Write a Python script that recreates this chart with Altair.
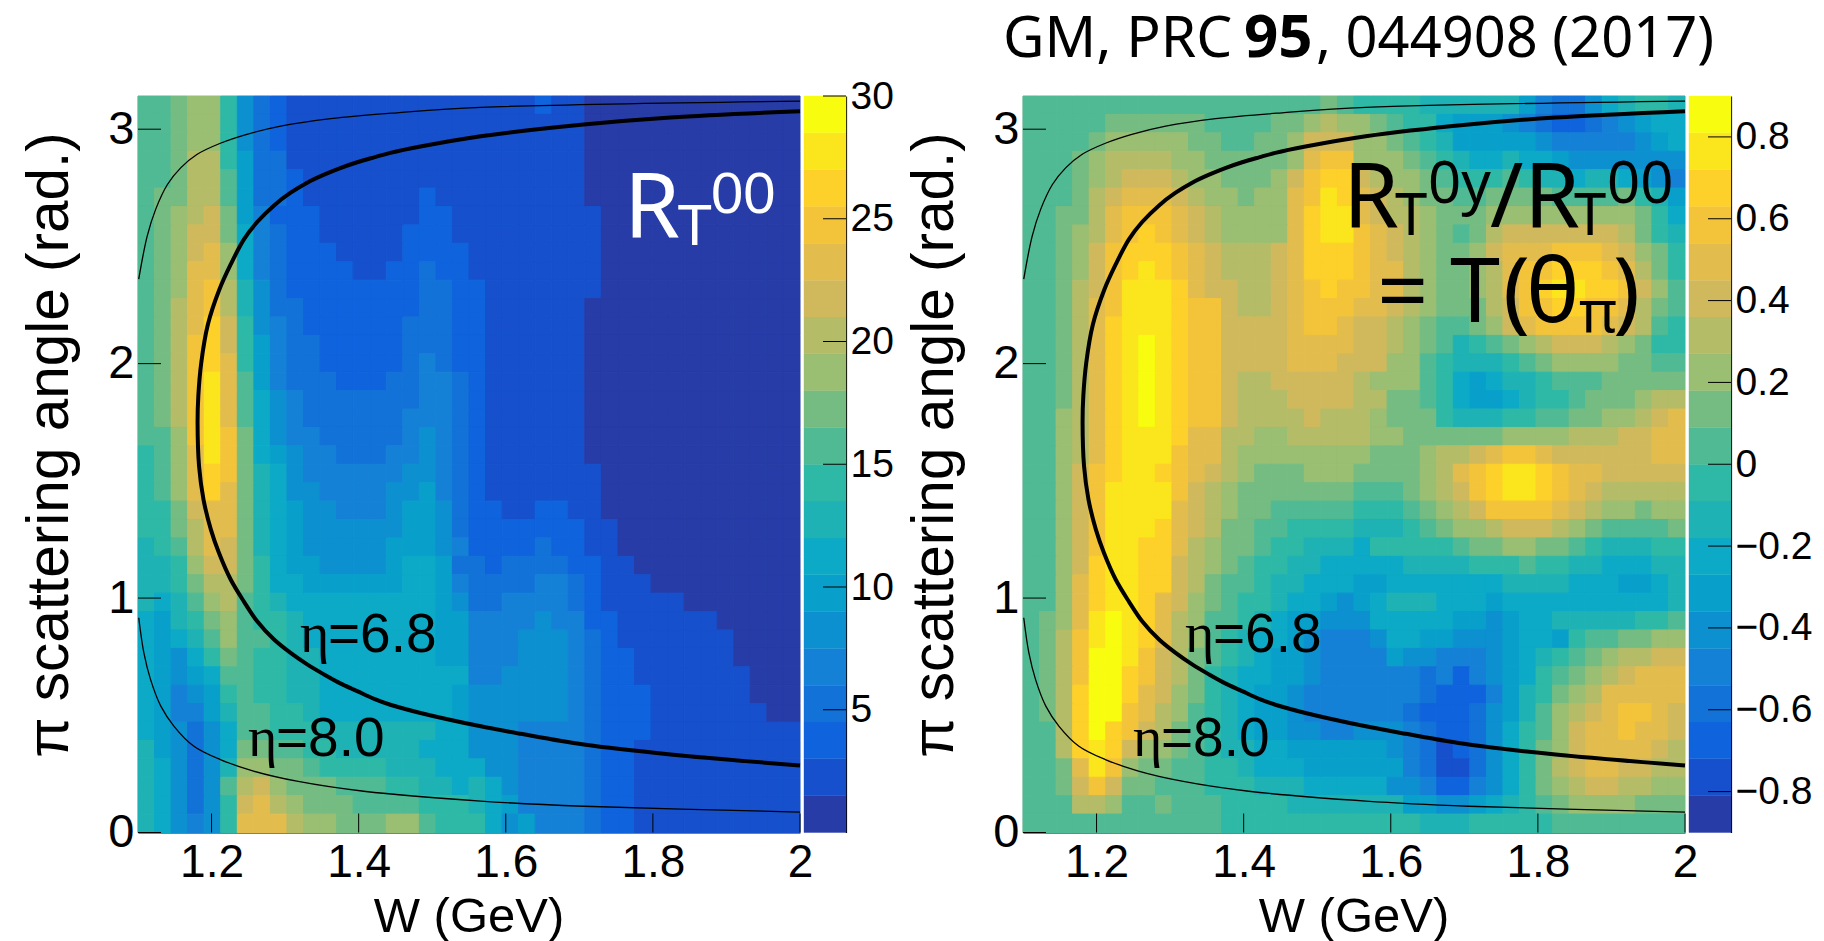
import altair as alt
import pandas as pd

PALETTE = ["#273CA6","#1650CC","#0F63DD","#1272D8","#1581D6","#0D90D0","#08A0CA","#0CAAC6","#1FB2B4","#2EB9A6",
           "#50BA94","#75BC82","#9ABE72","#B4BC68","#D0B95C","#E2BD4E","#F3C43A","#FDD02A","#FBE51C","#F8FC0E"]

# colour level (1-20) of each cell, top row first, W increasing
LEFT_LEVELS = [
[11,11,12,13,13,10,6,4,3,2,2,2,2,2,2,2,2,2,2,2,2,2,2,2,3,2,2,1,1,1,1,1,1,1,1,1,1,1,1,1],
[11,11,12,13,13,10,6,4,3,2,2,2,2,2,2,2,2,2,2,2,2,2,2,2,2,2,2,1,1,1,1,1,1,1,1,1,1,1,1,1],
[11,11,12,13,13,10,6,4,3,2,2,2,2,2,2,2,2,2,2,2,2,2,2,2,2,2,2,1,1,1,1,1,1,1,1,1,1,1,1,1],
[11,11,12,14,14,10,7,4,4,2,2,2,2,2,2,2,2,2,2,2,2,2,2,2,2,2,2,1,1,1,1,1,1,1,1,1,1,1,1,1],
[11,11,12,14,14,11,7,4,4,3,2,2,2,2,2,2,2,2,2,2,2,2,2,2,2,2,2,1,1,1,1,1,1,1,1,1,1,1,1,1],
[11,12,12,14,14,11,7,4,4,3,2,2,2,2,2,2,2,3,2,2,2,2,2,2,2,2,2,1,1,1,1,1,1,1,1,1,1,1,1,1],
[11,12,13,14,15,12,7,5,3,3,3,2,2,2,2,2,2,3,3,2,2,2,2,2,2,2,2,2,1,1,1,1,1,1,1,1,1,1,1,1],
[11,12,13,15,15,12,8,5,4,3,3,2,2,2,2,2,3,3,3,2,2,2,2,2,2,2,2,2,1,1,1,1,1,1,1,1,1,1,1,1],
[11,12,13,15,16,13,8,5,4,3,3,3,2,2,2,2,3,3,3,3,2,2,2,2,2,2,2,2,1,1,1,1,1,1,1,1,1,1,1,1],
[11,12,13,16,16,13,8,5,4,3,3,3,3,2,2,3,3,4,3,3,2,2,2,2,2,2,2,2,1,1,1,1,1,1,1,1,1,1,1,1],
[11,12,13,16,17,14,9,6,4,3,3,3,3,3,3,3,3,4,4,3,3,2,2,2,2,2,2,2,1,1,1,1,1,1,1,1,1,1,1,1],
[11,12,14,16,17,14,9,6,4,4,3,3,3,3,3,3,3,4,4,3,3,2,2,2,2,2,2,1,1,1,1,1,1,1,1,1,1,1,1,1],
[11,12,14,16,18,15,10,6,5,4,3,3,3,3,3,3,4,4,4,3,3,2,2,2,2,2,2,1,1,1,1,1,1,1,1,1,1,1,1,1],
[11,12,14,17,18,15,10,7,5,4,4,3,3,3,3,3,4,4,4,3,3,2,2,2,2,2,2,1,1,1,1,1,1,1,1,1,1,1,1,1],
[11,12,14,17,18,16,10,7,5,4,4,3,3,3,3,3,4,5,4,3,3,2,2,2,2,2,2,1,1,1,1,1,1,1,1,1,1,1,1,1],
[11,12,14,17,19,16,11,7,5,4,4,4,3,3,3,4,4,5,5,4,3,2,2,2,2,2,2,1,1,1,1,1,1,1,1,1,1,1,1,1],
[11,12,14,17,19,16,11,8,6,5,4,4,4,4,4,4,4,5,5,4,3,2,2,2,2,2,2,1,1,1,1,1,1,1,1,1,1,1,1,1],
[11,12,14,17,19,16,11,8,6,5,4,4,4,4,4,4,5,5,5,4,3,2,2,2,2,2,2,1,1,1,1,1,1,1,1,1,1,1,1,1],
[11,11,13,17,19,17,12,8,6,5,5,4,4,4,4,4,5,6,5,4,3,2,2,2,2,2,2,1,1,1,1,1,1,1,1,1,1,1,1,1],
[10,11,13,16,19,17,12,8,7,6,5,5,4,4,4,5,5,6,5,4,3,2,2,2,2,2,2,1,1,1,1,1,1,1,1,1,1,1,1,1],
[10,11,13,16,18,17,12,9,8,6,5,5,5,5,5,5,6,6,5,4,3,2,2,2,2,2,2,2,1,1,1,1,1,1,1,1,1,1,1,1],
[10,11,13,16,18,16,12,9,8,6,6,5,5,5,5,6,6,7,5,4,3,2,2,2,2,2,2,2,1,1,1,1,1,1,1,1,1,1,1,1],
[10,10,12,15,16,16,12,9,8,7,6,6,5,5,5,6,7,7,6,4,3,3,2,2,3,3,2,2,1,1,1,1,1,1,1,1,1,1,1,1],
[10,10,12,14,16,16,12,9,8,7,6,6,6,6,6,6,7,7,6,4,3,3,3,3,3,3,3,2,2,1,1,1,1,1,1,1,1,1,1,1],
[9,10,11,14,16,15,12,9,8,7,6,6,6,6,6,7,7,7,6,5,3,3,3,3,4,3,3,2,2,1,1,1,1,1,1,1,1,1,1,1],
[9,9,10,13,15,15,12,10,8,7,7,6,6,6,6,7,8,8,7,4,4,3,4,4,4,4,3,3,2,2,1,1,1,1,1,1,1,1,1,1],
[9,9,10,12,14,14,12,10,8,8,7,7,7,7,7,7,8,8,7,5,4,4,4,4,5,5,4,3,2,2,2,1,1,1,1,1,1,1,1,1],
[9,8,9,11,13,14,11,10,9,8,8,8,8,8,8,8,8,8,7,6,4,4,5,5,5,5,4,3,2,2,2,2,2,1,1,1,1,1,1,1],
[8,7,9,10,12,13,11,10,10,9,8,8,8,8,8,8,8,8,7,7,5,5,5,5,6,5,5,3,3,2,2,2,2,2,2,1,1,1,1,1],
[8,7,8,9,11,13,11,11,10,9,8,8,8,8,8,8,8,8,7,7,5,5,5,6,6,6,5,4,3,2,2,2,2,2,2,2,1,1,1,1],
[8,7,6,8,10,12,11,10,10,9,9,8,8,8,8,8,8,8,7,7,5,5,5,6,6,6,5,4,3,3,2,2,2,2,2,2,1,1,1,1],
[8,7,6,7,8,11,11,10,10,9,9,8,8,8,8,8,8,8,8,8,5,5,6,6,6,6,5,4,3,3,2,2,2,2,2,2,2,1,1,1],
[8,7,5,6,7,10,11,10,10,9,9,8,8,8,8,8,8,8,8,7,6,6,6,6,6,6,5,4,3,3,3,2,2,2,2,2,2,1,1,1],
[8,7,5,5,7,9,11,11,10,10,9,8,8,8,8,8,8,8,8,7,6,6,6,6,6,6,5,4,3,3,3,2,2,2,2,2,2,2,1,1],
[8,7,6,4,6,8,11,11,10,10,10,9,9,9,9,9,9,9,8,8,6,6,6,5,5,5,5,4,3,3,3,2,2,2,2,2,2,2,2,2],
[9,7,6,4,6,8,12,12,11,11,10,10,9,9,9,9,9,8,8,8,6,6,6,5,5,5,5,4,3,3,2,2,2,2,2,2,2,2,2,2],
[9,8,6,4,6,9,13,13,12,12,11,10,10,10,10,9,9,9,8,8,8,6,6,5,5,5,5,4,3,3,2,2,2,2,2,2,2,2,2,2],
[9,8,6,4,6,11,14,15,13,12,12,12,11,11,11,10,10,9,9,8,9,8,6,5,5,5,5,4,3,3,2,2,2,2,2,2,2,2,2,2],
[9,8,6,4,6,10,15,16,14,13,12,12,12,11,11,11,11,10,10,10,9,8,7,5,5,5,5,4,3,3,2,2,2,2,2,2,2,2,2,2],
[9,8,6,5,6,10,16,16,16,14,13,13,12,12,12,13,13,11,10,10,10,8,6,7,5,5,5,4,3,3,2,2,2,2,2,2,2,2,2,2],
]

RIGHT_LEVELS = [
[11,11,11,11,11,11,11,11,11,11,11,11,11,11,11,11,11,11,12,11,10,10,10,10,9,9,9,9,9,9,7,5,4,4,6,8,9,10,10,9],
[11,11,11,11,11,12,12,12,12,12,12,11,11,11,11,12,12,13,14,13,13,12,11,10,10,8,7,7,7,6,5,4,3,3,4,5,6,7,8,8],
[11,11,11,11,12,13,13,13,13,13,12,12,11,11,12,12,13,15,15,15,13,13,12,11,10,9,7,7,7,7,7,6,5,5,5,5,5,6,7,8],
[11,11,11,12,13,14,14,14,14,13,13,12,12,12,12,12,13,16,17,17,13,13,13,12,11,10,9,8,8,9,8,8,7,6,6,6,6,6,6,6],
[11,11,11,12,13,14,15,15,15,14,13,13,12,12,12,13,15,17,18,18,15,14,13,13,12,11,10,10,10,11,10,9,9,8,9,9,8,7,6,5],
[11,11,11,12,14,15,16,16,16,15,14,13,13,12,13,13,16,17,19,18,16,15,14,13,12,12,11,11,12,12,12,12,11,11,11,11,12,10,9,7],
[11,11,12,12,14,16,17,17,17,16,15,14,13,13,13,13,16,18,19,19,16,15,14,14,13,12,12,12,13,13,13,13,13,13,13,13,13,12,10,8],
[11,11,12,13,14,16,17,18,17,16,15,14,13,13,13,13,16,18,19,19,17,16,15,14,13,12,11,12,14,15,15,15,15,15,15,15,14,12,10,9],
[11,11,12,13,15,17,18,18,18,17,16,15,14,14,14,15,16,18,18,18,17,16,15,14,13,12,12,13,15,16,16,16,17,17,17,16,15,13,12,10],
[11,11,12,13,15,17,18,19,18,17,16,15,14,14,14,15,16,18,18,18,17,16,16,14,13,12,12,13,14,16,17,17,18,18,18,17,16,14,12,10],
[11,11,12,14,15,17,19,19,19,18,16,15,15,14,14,15,16,17,18,17,17,16,16,14,13,12,12,13,14,16,17,18,19,19,18,18,17,15,13,11],
[11,11,12,14,16,17,19,19,19,18,17,17,15,14,14,15,16,17,17,17,16,16,15,14,13,12,12,12,14,15,17,17,18,18,17,17,16,14,12,11],
[11,11,12,14,16,18,19,19,19,18,17,17,15,15,15,15,16,17,17,16,15,15,14,13,12,11,11,12,13,15,16,17,17,17,17,16,15,14,11,10],
[11,11,12,14,16,18,19,20,19,18,17,17,15,15,15,15,16,16,16,16,15,15,14,13,12,11,9,10,11,12,13,14,15,15,15,14,13,12,10,10],
[11,11,12,14,16,18,19,20,19,18,17,17,15,15,15,15,16,16,16,15,15,15,13,13,11,10,9,9,9,10,11,12,13,13,13,13,12,12,11,11],
[11,11,12,14,16,18,19,20,19,18,17,17,15,14,14,15,15,15,15,15,14,13,13,13,11,10,8,7,8,9,9,10,11,11,11,12,12,12,12,12],
[11,11,12,14,16,18,19,20,19,18,17,17,15,14,14,14,15,15,15,15,14,14,12,12,11,10,8,7,7,8,9,10,10,11,12,12,12,13,14,14],
[11,11,13,14,16,18,19,20,19,18,17,17,15,14,14,14,14,15,14,14,14,13,12,12,12,10,9,9,9,10,10,11,11,12,12,13,13,14,15,16],
[11,11,13,14,16,18,19,19,19,18,16,16,14,14,13,13,14,14,14,14,14,13,13,12,12,12,12,12,12,13,13,13,13,14,14,14,15,15,16,16],
[11,11,13,14,16,18,19,19,19,17,16,16,14,13,13,13,13,13,13,13,13,12,12,12,13,14,14,15,16,17,17,16,15,15,15,15,15,15,16,16],
[11,11,13,15,17,18,19,19,18,17,16,15,14,13,12,12,12,13,13,13,12,12,12,12,13,14,16,17,18,19,19,18,17,16,16,15,15,15,15,15],
[11,11,13,15,17,19,19,19,19,17,15,14,13,12,12,12,12,12,12,12,11,11,11,12,13,14,15,17,18,19,19,18,17,16,15,14,14,14,14,14],
[11,11,13,15,17,19,19,19,19,16,15,14,13,12,12,11,11,11,11,11,10,10,10,11,12,13,14,15,17,17,17,17,16,15,14,13,13,12,13,13],
[11,11,13,15,17,19,19,19,18,16,15,14,12,12,11,11,10,10,10,10,9,9,9,10,11,12,13,13,14,15,15,15,14,13,12,11,11,11,11,12],
[11,11,13,15,17,19,19,18,18,16,14,13,12,12,11,10,10,9,9,9,8,10,10,10,10,10,11,12,12,13,13,12,12,11,10,9,9,9,10,10],
[11,11,13,15,18,19,19,18,18,15,14,13,12,11,10,10,9,9,8,8,8,8,8,9,9,9,9,10,10,10,11,10,10,9,9,8,8,8,9,9],
[11,11,13,16,18,19,19,18,18,15,14,12,11,11,10,9,9,8,8,8,7,7,8,8,8,8,8,8,8,9,9,9,9,8,8,8,7,7,8,9],
[11,11,13,16,18,19,19,18,16,15,13,12,11,10,10,9,8,8,7,6,7,8,9,9,9,8,8,8,7,8,8,8,8,8,8,8,8,8,8,9],
[11,12,13,16,19,20,19,18,16,14,13,11,11,10,9,8,7,7,6,6,6,8,8,8,8,8,7,7,6,7,8,8,9,9,9,9,9,10,10,11],
[11,12,14,17,19,20,19,18,16,14,13,11,10,9,8,8,7,6,5,5,5,6,8,8,7,7,6,6,6,7,8,8,7,10,11,11,12,12,13,13],
[11,12,14,17,20,20,19,17,15,14,12,11,10,9,8,7,7,6,5,5,5,5,7,6,6,5,5,5,6,7,8,9,10,11,12,13,14,14,15,15],
[11,12,14,17,20,20,18,17,15,14,12,10,9,8,8,7,7,6,5,5,5,5,5,5,4,5,3,5,6,7,8,10,11,12,13,14,15,16,16,16],
[11,12,14,18,20,20,18,16,15,13,12,10,9,8,7,7,6,5,5,5,5,5,5,5,4,3,3,3,5,7,9,10,12,13,14,16,16,16,16,16],
[11,12,14,18,20,20,17,16,14,13,11,10,9,8,7,7,6,5,5,5,5,5,5,4,3,3,3,4,6,7,9,11,13,14,15,16,17,17,16,15],
[11,11,14,18,20,18,17,15,14,12,11,10,9,8,7,7,6,6,5,5,6,6,6,5,4,3,3,4,6,8,10,11,13,15,16,16,17,16,16,15],
[11,11,14,18,19,18,15,13,13,12,11,10,9,9,8,8,7,7,7,7,7,7,6,5,4,2,3,4,6,8,10,12,13,15,16,16,16,16,15,14],
[11,11,12,16,19,17,13,12,12,11,11,10,10,9,8,8,8,7,7,7,7,7,7,5,4,2,2,4,6,8,10,12,14,15,16,16,15,15,14,14],
[11,11,12,15,17,15,12,12,11,11,11,10,10,10,9,9,9,8,8,8,8,8,6,6,5,3,3,5,6,8,10,12,13,14,15,15,14,14,13,13],
[11,11,11,14,14,13,11,11,12,11,11,11,10,10,10,10,9,9,9,9,9,9,9,7,7,6,6,7,8,9,10,11,12,13,13,13,13,12,12,12],
[11,11,11,11,11,11,11,11,11,11,11,11,10,10,10,10,10,10,10,10,10,10,10,10,9,9,9,10,10,10,10,10,11,11,11,11,11,11,11,11],
]

THICK_W = [2.0,1.824,1.706,1.566,1.484,1.443,1.421,1.398,1.375,1.353,1.330,1.307,1.285,1.262,1.244,1.226,1.210,1.195,
           1.186,1.182,1.181,1.183,1.189,1.199,1.210,1.226,1.244,1.262,1.285,1.307,1.330,1.353,1.375,1.398,1.421,1.443,
           1.484,1.566,1.62,1.706,1.824,2.0]
THICK_T = [3.077,3.05,3.02,2.97,2.926,2.899,2.880,2.859,2.834,2.806,2.772,2.728,2.675,2.604,2.530,2.423,2.311,2.167,
           2.004,1.861,1.748,1.563,1.421,1.293,1.193,1.079,0.985,0.901,0.823,0.767,0.717,0.674,0.636,0.603,0.570,0.545,
           0.510,0.453,0.421,0.375,0.333,0.286]
THIN_UP_W = [2.0,1.566,1.452,1.362,1.294,1.248,1.212,1.18,1.158,1.14,1.124,1.1125,1.101]
THIN_UP_T = [3.12,3.093,3.07,3.045,3.013,2.978,2.94,2.892,2.835,2.764,2.658,2.544,2.36]
THIN_LO_W = [1.101,1.108,1.117,1.131,1.149,1.176,1.212,1.257,1.316,1.407,1.566,1.706,2.0]
THIN_LO_T = [0.916,0.766,0.653,0.539,0.453,0.368,0.311,0.262,0.219,0.176,0.134,0.112,0.087]

W_TICKS = [1.2,1.4,1.6,1.8,2.0]
T_TICKS = [0,1,2,3]
LEFT_BAR_TICKS = [5,10,15,20,25,30]
RIGHT_BAR_TICKS = [-0.8,-0.6,-0.4,-0.2,0,0.2,0.4,0.6,0.8]

W0, W1 = 1.1, 2.0
T0, T1 = 0.0, 3.14159
PW, PH, BW = 662, 736.5, 42
SERIF = "Liberation Serif"
SANS = "Liberation Sans"
NARROW = "Liberation Sans Narrow, Noto Sans"
NOTO = "Noto Sans"

xs = alt.Scale(domain=[W0, W1], nice=False, zero=False)
ys = alt.Scale(domain=[T0, T1], nice=False, zero=False)
one = pd.DataFrame({"a": [0]})


def grid(levels, vmin, vmax):
    step = (vmax - vmin) / 20
    rows = []
    for r, row in enumerate(levels):
        for c, lv in enumerate(row):
            rows.append({"w": W0 + (W1 - W0) * c / 40, "w2": W0 + (W1 - W0) * (c + 1) / 40,
                         "t": T0 + (T1 - T0) * (39 - r) / 40, "t2": T0 + (T1 - T0) * (40 - r) / 40,
                         "v": vmin + (lv - 0.5) * step})
    return pd.DataFrame(rows)


def curves():
    rows = []
    for name, ws, ts in [("thick", THICK_W, THICK_T), ("up", THIN_UP_W, THIN_UP_T), ("lo", THIN_LO_W, THIN_LO_T)]:
        for i, (w, t) in enumerate(zip(ws, ts)):
            rows.append({"name": name, "i": i, "w": w, "t": t})
    return pd.DataFrame(rows)


def txt(s, x, y, size, font=SANS, color="black", weight="normal", align="left", angle=0):
    return alt.Chart(one).mark_text(text=s, fontSize=size, font=font, color=color, fontWeight=weight,
                                    align=align, baseline="alphabetic", angle=angle).encode(
        x=alt.value(x), y=alt.value(y))


def panel(levels, vmin, vmax, extra):
    cs = alt.Scale(type="quantize", domain=[vmin, vmax], range=PALETTE)
    heat = alt.Chart(grid(levels, vmin, vmax)).mark_rect(strokeWidth=1).encode(
        x=alt.X("w:Q", scale=xs, title=None, axis=alt.Axis(
            values=W_TICKS, tickSize=0, grid=False, domainColor="black", domainWidth=1.2,
            labelExpr="datum.value==2 ? '2' : format(datum.value,'.1f')", labelFont=SANS, labelFontSize=46,
            labelColor="black", labelPadding=8, labelOverlap=False, labelFlush=False, labelBound=False)),
        x2="w2:Q",
        y=alt.Y("t:Q", scale=ys, title=None, axis=alt.Axis(
            values=T_TICKS, tickSize=0, grid=False, domainColor="black", domainWidth=1.2, format="d",
            labelFont=SANS, labelFontSize=47, labelColor="black", labelPadding=4, labelOverlap=False,
            labelFlush=False, labelBound=False)),
        y2="t2:Q",
        color=alt.Color("v:Q", scale=cs, legend=None),
        stroke=alt.Stroke("v:Q", scale=cs, legend=None),
    )
    cdf = curves()
    thick = alt.Chart(cdf[cdf.name == "thick"]).mark_line(color="black", strokeWidth=4, interpolate="catmull-rom").encode(
        x=alt.X("w:Q", scale=xs), y=alt.Y("t:Q", scale=ys), order="i:Q")
    thin = alt.Chart(cdf[cdf.name != "thick"]).mark_line(color="black", strokeWidth=1.3, interpolate="catmull-rom").encode(
        x=alt.X("w:Q", scale=xs), y=alt.Y("t:Q", scale=ys), detail="name:N", order="i:Q")
    xt = alt.Chart(pd.DataFrame({"w": W_TICKS})).mark_rule(color="black", strokeWidth=1).encode(
        x=alt.X("w:Q", scale=xs), y=alt.value(PH), y2=alt.value(PH - 19))
    yt = alt.Chart(pd.DataFrame({"t": T_TICKS})).mark_rule(color="black", strokeWidth=1).encode(
        y=alt.Y("t:Q", scale=ys), x=alt.value(0), x2=alt.value(23))
    labels = [
        txt("η", 162, 556, 56, SERIF), txt("=6.8", 190, 556, 55),
        txt("η", 110, 660, 56, SERIF), txt("=8.0", 138, 660, 55),
        txt("π scattering angle (rad.)", -70, 349, 58.5, angle=270, align="center"),
        txt("W (GeV)", PW / 2, 836, 49, align="center"),
    ]
    return alt.layer(heat, thick, thin, xt, yt, *labels, *extra).properties(width=PW, height=PH)


def bar(vmin, vmax, ticks, label_expr):
    step = (vmax - vmin) / 20
    df = pd.DataFrame({"lo": [vmin + i * step for i in range(20)], "hi": [vmin + (i + 1) * step for i in range(20)]})
    df["mid"] = (df.lo + df.hi) / 2
    cs = alt.Scale(type="quantize", domain=[vmin, vmax], range=PALETTE)
    by = alt.Scale(domain=[vmin, vmax], nice=False, zero=False)
    rect = alt.Chart(df).mark_rect(strokeWidth=0.4).encode(
        x=alt.value(0), x2=alt.value(BW),
        y=alt.Y("lo:Q", scale=by, title=None, axis=alt.Axis(
            orient="right", values=ticks, tickSize=0, grid=False, domainColor="black", domainWidth=1.2,
            labelExpr=label_expr, labelFont=SANS, labelFontSize=39, labelColor="black", labelPadding=4,
            labelOverlap=False, labelFlush=False, labelBound=False)),
        y2="hi:Q",
        color=alt.Color("mid:Q", scale=cs, legend=None),
        stroke=alt.Stroke("mid:Q", scale=cs, legend=None),
    )
    tk = alt.Chart(pd.DataFrame({"t": ticks})).mark_rule(color="black", strokeWidth=1).encode(
        y=alt.Y("t:Q", scale=by), x=alt.value(BW - 23), x2=alt.value(BW))
    return alt.layer(rect, tk).properties(width=BW, height=PH)


left_extra = [
    txt("R", 486, 141, 90, NARROW, color="white"),
    txt("T", 539, 149, 58, color="white"),
    txt("00", 573, 117, 58, color="white"),
]
right_extra = [
    txt("R", 320, 131, 90, NARROW), txt("T", 372, 139, 58, NOTO), txt("0y", 405, 107, 58, NOTO),
    txt("/", 467, 131, 90, NOTO), txt("R", 501, 131, 90, NARROW), txt("T", 551, 139, 58, NOTO),
    txt("00", 584, 107, 58, NOTO),
    txt("=", 354, 226, 90, NOTO), txt("T", 427, 226, 90, NOTO), txt("(", 480, 226, 90, NOTO),
    txt("θ", 503, 226, 90, NOTO), txt("π", 556, 236, 58, NOTO), txt(")", 590, 226, 90, NOTO),
    txt("GM, PRC", -20, -39, 57, NOTO), txt("95", 221, -39, 60, NOTO, weight="bold"),
    txt(", 044908 (2017)", 293, -39, 56, NOTO),
]

p1 = panel(LEFT_LEVELS, 0, 30, left_extra)
b1 = bar(0, 30, LEFT_BAR_TICKS, "format(datum.value,'d')")
spacer = alt.Chart(one).mark_point(opacity=0).encode(x=alt.value(0), y=alt.value(0)).properties(width=169, height=PH)
p2 = panel(RIGHT_LEVELS, -0.9, 0.9, right_extra)
b2 = bar(-0.9, 0.9, RIGHT_BAR_TICKS, "datum.value==0 ? '0' : replace(format(datum.value,'.1f'),'-','–')")

chart = alt.hconcat(p1, b1, spacer, p2, b2, spacing=4, bounds="flush").resolve_scale(
    color="independent", stroke="independent"
).configure_view(stroke=None).properties(padding={"left": 12, "top": 1, "right": 0, "bottom": 0},
                                         background="white")
chart.save("out.html", embed_options={"renderer": "svg", "actions": False})
